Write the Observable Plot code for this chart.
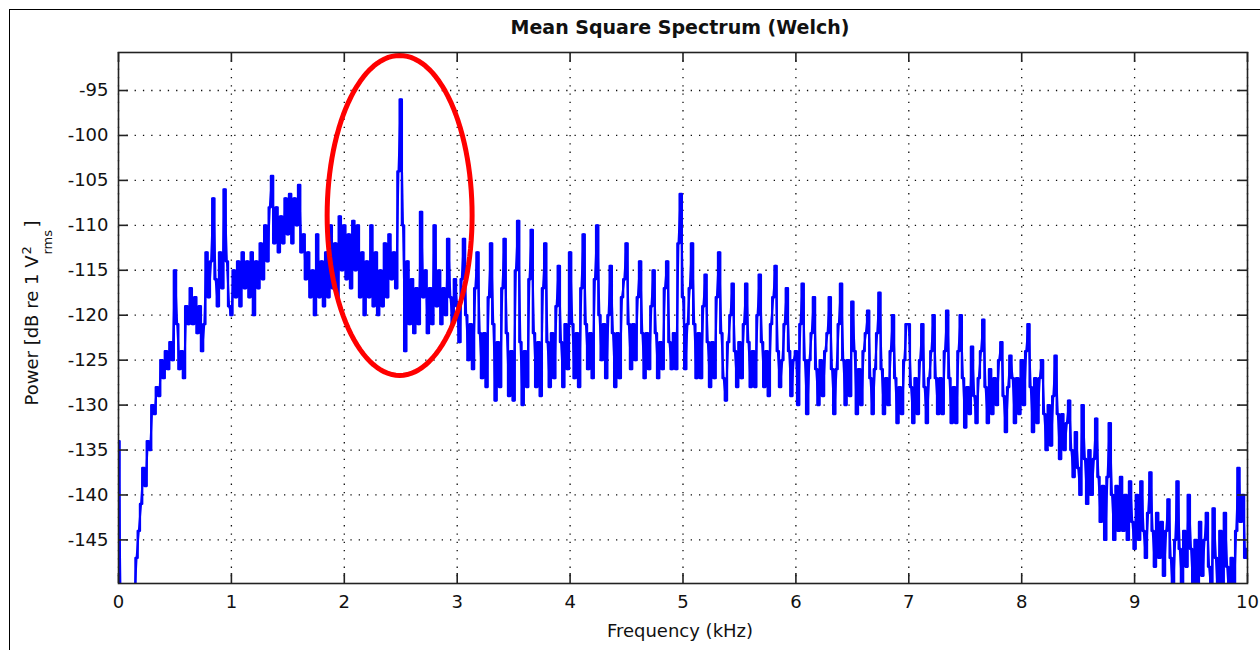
<!DOCTYPE html>
<html>
<head>
<meta charset="utf-8">
<script src="https://cdn.jsdelivr.net/npm/d3@7"></script>
<script src="https://cdn.jsdelivr.net/npm/@observablehq/plot@0.6"></script>
<style>
  body { margin: 0; background: #fff; font-family: "DejaVu Sans", sans-serif; color: #111; }
  #wrap { position: relative; width: 1260px; height: 650px; overflow: hidden; }
  #border { position: absolute; left: 9px; top: 9px; width: 1400px; height: 800px; border: 1px solid #000; box-sizing: border-box; }
  #chart { position: absolute; left: 0; top: 0; }
  #title { position: absolute; left: 430px; width: 500px; top: 15px; text-align: center;
           font-weight: bold; font-size: 19px; line-height: 24px; white-space: nowrap; }
  #xlabel { position: absolute; left: 430px; width: 500px; top: 619px; text-align: center;
            font-size: 18px; line-height: 24px; white-space: nowrap; }
  #ylabel { position: absolute; left: 32px; top: 313px; transform: translate(-50%, -50%) rotate(-90deg);
            font-size: 18px; line-height: 24px; white-space: nowrap; }
  #ylabel .stk { display: inline-block; position: relative; width: 28px; height: 0; }
  #ylabel .sup, #ylabel .sub { position: absolute; left: 1px; font-size: 13px; line-height: 13px; }
  #ylabel .sup { bottom: 5px; }
  #ylabel .sub { top: 3px; }
</style>
</head>
<body>
<div id="wrap">
  <div id="border"></div>
  <div id="chart"></div>
  <div id="title">Mean Square Spectrum (Welch)</div>
  <div id="xlabel">Frequency (kHz)</div>
  <div id="ylabel">Power [dB re 1 V<span class="stk"><span class="sup">2</span><span class="sub">rms</span></span>]</div>
</div>
<script>
// Axis ticks
const xTicks = [0, 1, 2, 3, 4, 5, 6, 7, 8, 9, 10];
const yTicks = [-95, -100, -105, -110, -115, -120, -125, -130, -135, -140, -145];

// Welch spectrum, one value every 0.02 kHz, one array per kHz band (dB re 1 V²rms)
const binStep = 0.02;
const p00 = [-134,-153,-156,-156,-156, -156,-156,-152,-147,-144, -141,-137,-139,-134,-135,
             -130,-131,-128,-129,-125, -127,-124,-126,-123,-125, -115,-121,-126,-124,-127,
             -119,-121,-117,-121,-118, -122,-119,-124,-121,-113, -118,-114,-107,-116,-119,
             -113,-117,-106,-114,-119];
const p01 = [-120,-115,-118,-114,-119, -113,-117,-114,-118,-113, -120,-114,-117,-112,-116,
             -110,-114,-108,-104.5,-112, -108,-113,-109,-112,-107, -111,-106.5,-112,-107,-110,
             -105.5,-113,-111,-116,-113, -118,-115,-120,-111,-118, -114,-119,-113,-118,-110,
             -117,-112,-118,-109,-115];
const p02 = [-110,-116,-111,-117,-109.5, -115,-110,-118,-113,-120, -114,-118,-110,-119,-113,
             -120,-115,-119,-112,-118, -111,-116,-113,-117,-104, -96,-110,-124,-114,-121,
             -116,-122,-117,-121,-108.5, -118,-115,-122,-117,-121, -110,-119,-115,-121,-117,
             -120,-111.5,-118,-121,-116];
const p03 = [-119,-123,-116,-111.5,-120, -125,-121,-126,-117,-113, -122,-127,-122,-128,-118,
             -112,-121,-129.5,-123,-128, -117,-111.5,-122,-129,-124, -129.5,-115,-109.5,-123,-130,
             -124,-128,-116,-110.5,-122, -128,-123,-129,-117,-112, -123,-128,-122,-127,-119,
             -114.5,-123,-128,-121,-126];
const p04 = [-113,-121,-127,-122,-128, -117,-111,-121,-126,-122, -127,-116,-110,-120,-125,
             -121,-127,-120,-114.5,-122, -128,-122,-127,-118,-116, -112,-121,-126,-121,-125,
             -118,-114,-122,-127,-122, -126,-119,-115,-122,-127, -123,-126,-117,-114,-123,
             -126,-122,-126,-112,-106.5];
const p05 = [-118,-126,-121,-117,-112, -121,-127,-122,-127,-119, -115.5,-123,-128,-123,-127,
             -118,-113,-122,-127,-129.5, -123,-120,-116.5,-124,-128, -123,-127,-121,-116.5,-123,
             -128,-124,-128,-120,-115.5, -123,-128,-124,-129,-121, -118,-114.5,-124,-128,-125,
             -121,-117,-124,-129,-125];
const p06 = [-124,-130,-121,-116.5,-125, -131,-125,-122,-118,-126, -130,-125,-129,-124,-122,
             -118,-126,-131,-126,-121, -116.5,-125,-130,-125,-129, -118.5,-124,-131,-126,-130,
             -124,-122,-119.5,-127,-131, -126,-122,-117.5,-126,-131, -127,-130,-124,-120,-127,
             -132,-128,-131,-125,-121];
const p07 = [-121,-128,-132,-127,-131, -125,-121,-128,-132,-127, -124,-120,-127,-131,-127,
             -131,-124,-119.5,-127,-132, -128,-132,-124,-120,-127, -132.5,-128,-131,-123.5,-129,
             -132,-127,-124,-120.5,-128, -132,-126,-131,-127,-130, -125,-123,-129,-133,-128,
             -124.5,-127,-132,-127,-131];
const p08 = [-125,-130,-124,-121,-128, -133,-127,-132,-127,-125, -131,-135,-130,-134.5,-129,
             -124.5,-131,-136,-131,-135, -132,-129.5,-135,-138,-133, -137,-140,-130,-136,-141,
             -135,-140,-136,-131.5,-138, -143,-139,-145,-138,-132, -140,-145,-139,-144,-138,
             -144,-140,-145,-138.5,-143];
const p09 = [-146,-140,-145,-138.5,-144, -147,-142,-137.5,-144,-148, -142,-147,-143,-149,-144,
             -140.5,-147,-151,-145,-138.5, -146,-150,-144,-148,-140, -146,-151,-145,-150,-143,
             -149,-145,-142,-148,-151, -141.5,-147,-152,-144,-150, -142,-148,-152,-147,-151,
             -144,-137,-143,-140,-147, -146];

const bands = [p00, p01, p02, p03, p04, p05, p06, p07, p08, p09];
const spectrum = bands.flatMap((vals, k) =>
  vals.map((p, j) => ({ f: +(k + j * binStep).toFixed(2), p })));

// Highlight ring around the 2.5 kHz tone (centre and half-axes in kHz / dB)
const ringCenter = [2.49, -108.9];
const ringRadii = [0.642, 17.8];
const ring = d3.range(0, 361, 3).map(a => {
  const t = a * Math.PI / 180;
  return { f: ringCenter[0] + ringRadii[0] * Math.cos(t), p: ringCenter[1] + ringRadii[1] * Math.sin(t) };
});

const W = 1260, H = 650, mL = 118, mR = 13, mT = 52, mB = 67;
const innerW = W - mL - mR, innerH = H - mT - mB;
const tickLen = 10;
const grid = { stroke: "#000", strokeWidth: 1.3, strokeDasharray: "1.3,7", strokeOpacity: 0.95 };
const tick = { stroke: "#222", strokeWidth: 1.6 };
const trace = { x: "f", y: "p", stroke: "#0000ff", clip: true };

const chart = Plot.plot({
  width: W, height: H,
  marginLeft: mL, marginRight: mR, marginTop: mT, marginBottom: mB,
  style: { fontFamily: "DejaVu Sans, sans-serif", fontSize: "18px", color: "#111", background: "transparent" },
  x: { domain: [0, 10], ticks: xTicks, tickSize: 0, tickPadding: 12, tickFormat: d => String(d), label: null },
  y: { domain: [-149.85, -90.77], ticks: yTicks, tickSize: 0, tickPadding: 10, tickFormat: d => String(d), label: null },
  marks: [
    Plot.ruleX(xTicks, { x: d => d, ...grid }),
    Plot.ruleY(yTicks, { y: d => d, ...grid }),
    // the trace is stroked twice (held bins + straight joins) so the fine ripple reads as a dense band
    Plot.line(spectrum, { ...trace, strokeWidth: 2.3, curve: "step" }),
    Plot.line(spectrum, { ...trace, strokeWidth: 2 }),
    Plot.line(ring, { x: "f", y: "p", stroke: "#ff0000", strokeWidth: 5 }),
    Plot.ruleX(xTicks, { x: d => d, insetTop: innerH - tickLen, ...tick }),
    Plot.ruleX(xTicks, { x: d => d, insetBottom: innerH - tickLen, ...tick }),
    Plot.ruleY(yTicks, { y: d => d, insetRight: innerW - tickLen, ...tick }),
    Plot.ruleY(yTicks, { y: d => d, insetLeft: innerW - tickLen, ...tick }),
    Plot.frame({ stroke: "#222", strokeWidth: 1.6 })
  ]
});
document.getElementById("chart").appendChild(chart);
</script>
</body>
</html>
